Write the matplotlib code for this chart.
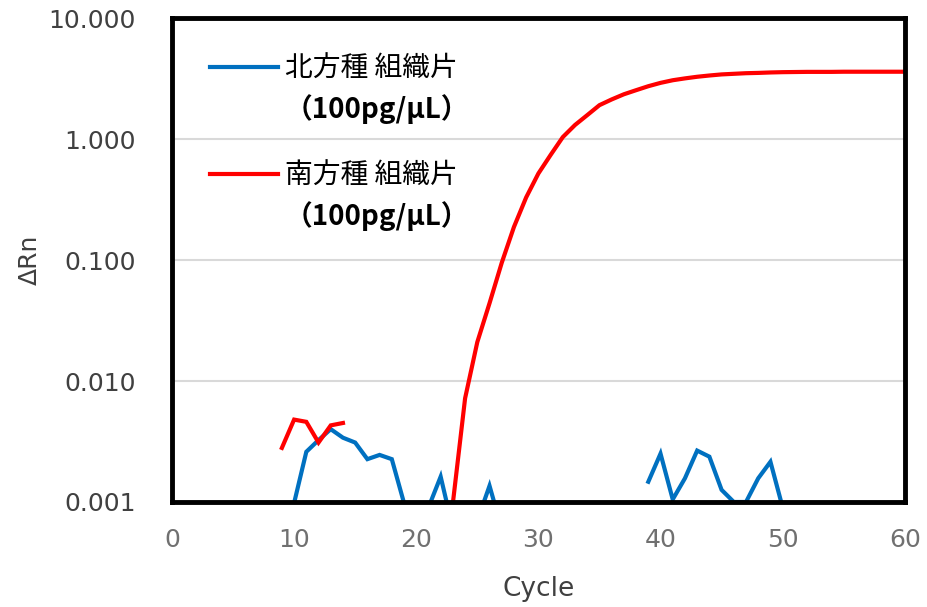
import numpy as np
import matplotlib.pyplot as plt
from matplotlib.lines import Line2D
from matplotlib.ticker import FixedLocator, FixedFormatter

plt.rcParams['font.family'] = ['DejaVu Sans']

nan = np.nan
cycles = np.arange(1, 61)

# north type tissue (blue), cycles 1-60
north = (
    [nan] * 9                                                                               # 1-9
    + [0.00098, 0.0026, 0.00325, 0.0040, 0.0034, 0.0031, 0.00226, 0.00245, 0.00226, 0.00098]  # 10-19
    + [nan, 0.0009, 0.00162, 0.0006, nan, 0.0007, 0.00136, 0.0006, nan, nan]                # 20-29
    + [nan] * 9                                                                             # 30-38
    + [0.00147, 0.00251]                                                                    # 39-40
    + [0.00105, 0.00157, 0.00266, 0.00237, 0.00126, 0.001, 0.001, 0.00157, 0.00215, 0.0009]  # 41-50
    + [nan] * 10                                                                            # 51-60
)

# south type tissue (red), cycles 1-60
south = (
    [nan] * 8                                                                               # 1-8
    + [0.0028, 0.0048, 0.0046, 0.0031, 0.0043, 0.0045]                                      # 9-14
    + [nan] * 8                                                                             # 15-22
    + [0.00098, 0.0072, 0.021, 0.044, 0.095, 0.188, 0.33, 0.52, 0.74, 1.04]                 # 23-32
    + [1.31, 1.58, 1.91, 2.13, 2.35, 2.54, 2.74, 2.92, 3.07, 3.18]                          # 33-42
    + [3.28, 3.36, 3.43, 3.47, 3.51, 3.53, 3.56, 3.58, 3.59, 3.60]                          # 43-52
    + [3.60, 3.60, 3.61, 3.61, 3.61, 3.61, 3.61, 3.61]                                      # 53-60
)

labels_north = ['北方種 組織片', '（100pg/μL）']
labels_south = ['南方種 組織片', '（100pg/μL）']
yticks = [0.001, 0.01, 0.1, 1, 10]
ytick_labels = ['0.001', '0.010', '0.100', '1.000', '10.000']
xticks = [0, 10, 20, 30, 40, 50, 60]

fig = plt.figure(figsize=(9.28, 6.07), dpi=100)
ax = fig.add_axes([0.1853, 0.173, 0.7897, 0.797])

l1, = ax.plot(cycles, north, color='#0070C0', lw=3, solid_joinstyle='miter')
l2, = ax.plot(cycles, south, color='#FF0000', lw=3, solid_joinstyle='miter')

ax.set_yscale('log')
ax.set_ylim(0.001, 10)
ax.set_xlim(0, 60)
ax.yaxis.set_major_locator(FixedLocator(yticks))
ax.yaxis.set_major_formatter(FixedFormatter(ytick_labels))
ax.yaxis.set_minor_locator(FixedLocator([]))
ax.set_xticks(xticks)

ax.grid(axis='y', color='#d9d9d9', lw=1.5)
ax.set_axisbelow(True)
for s in ax.spines.values():
    s.set_linewidth(3.5)
    s.set_color('black')

ax.tick_params(axis='y', length=0, pad=26, labelsize=18, labelcolor='#404040')
ax.tick_params(axis='x', length=0, pad=19, labelsize=18, labelcolor='#707070')
ax.set_xlabel('Cycle', fontsize=19, color='#404040', labelpad=17)
ax.set_ylabel('ΔRn', fontsize=18, color='#404040', labelpad=5)

blank = Line2D([], [], color='none')
leg_font = {'family': ['Noto Sans CJK JP', 'DejaVu Sans'], 'size': 20}
leg_kw = dict(loc='upper left', frameon=False, prop=leg_font, handlelength=2.45,
              handletextpad=0.25, labelspacing=0.38, borderaxespad=0, borderpad=0)
leg1 = ax.legend([l1, blank], labels_north, bbox_to_anchor=(0.0518, 0.9263), **leg_kw)
ax.add_artist(leg1)
leg2 = ax.legend([l2, blank], labels_south, bbox_to_anchor=(0.0518, 0.7052), **leg_kw)
for lg in (leg1, leg2):
    lg.get_texts()[1].set_fontweight('bold')

fig.savefig('out.png', dpi=100)
